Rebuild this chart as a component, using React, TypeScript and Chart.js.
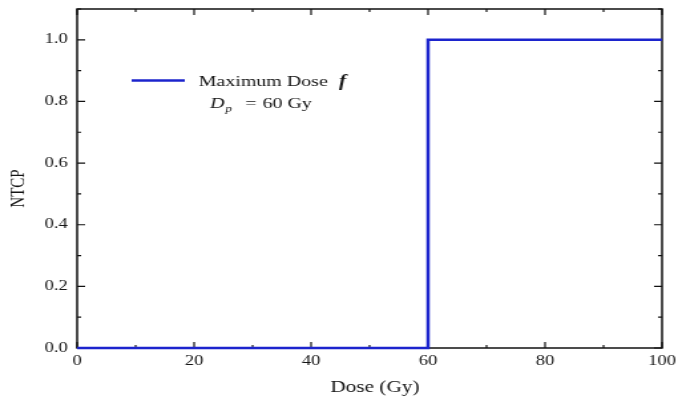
import { useEffect, useRef } from 'react';
import { Chart, registerables } from 'chart.js';

Chart.register(...registerables);

// Step response of NTCP for the maximum-dose model
const doseGy = [0, 60, 60, 100];
const ntcp = [0, 0, 1, 1];

const xTickValues = [0, 20, 40, 60, 80, 100];
const yTickValues = [0, 0.2, 0.4, 0.6, 0.8, 1.0];

const seriesLabel = 'Maximum Dose';
const seriesSymbol = 'f';
const prescribedDose = 60;
const doseUnit = 'Gy';

const xTitle = 'Dose (Gy)';
const yTitle = 'NTCP';

// Drawn narrower and widened by CSS to get the wide serif look
const VIEW_W = 678;
const VIEW_H = 401;
const LOGICAL_W = 510;

const SERIF = "'Liberation Serif', 'Times New Roman', serif";
const LINE_COLOR = 'rgb(28, 36, 205)';
const TEXT_COLOR = '#141414';

const frameAndTicks = {
  id: 'frameAndTicks',
  beforeDatasetsDraw(chart: any) {
    const { ctx, chartArea: a, scales } = chart;
    const xs = scales.x;
    const ys = scales.y;
    ctx.save();
    ctx.strokeStyle = '#111';
    ctx.lineWidth = 1.5;
    ctx.strokeRect(a.left, a.top, a.right - a.left, a.bottom - a.top);

    const major = 6;
    const minor = 3;
    ctx.lineWidth = 1.2;
    ctx.beginPath();
    for (let v = xs.min; v <= xs.max + 1e-9; v += 10) {
      const px = xs.getPixelForValue(v);
      const len = Math.round(v) % 20 === 0 ? major : minor;
      ctx.moveTo(px, a.bottom);
      ctx.lineTo(px, a.bottom - len);
      ctx.moveTo(px, a.top);
      ctx.lineTo(px, a.top + len);
    }
    for (let i = 0; i <= 11; i++) {
      const v = i / 10;
      const py = ys.getPixelForValue(v);
      const len = i % 2 === 0 ? major : minor;
      ctx.moveTo(a.left, py);
      ctx.lineTo(a.left + len, py);
      ctx.moveTo(a.right, py);
      ctx.lineTo(a.right - len, py);
    }
    ctx.stroke();
    ctx.restore();
  },
  afterDraw(chart: any) {
    const { ctx, chartArea: a } = chart;
    ctx.save();
    ctx.fillStyle = TEXT_COLOR;

    // axis titles
    ctx.font = `16px ${SERIF}`;
    ctx.textAlign = 'center';
    ctx.textBaseline = 'alphabetic';
    ctx.fillText(xTitle, (a.left + a.right) / 2 + 4, a.bottom + 44);

    ctx.save();
    ctx.translate(17.5, (a.top + a.bottom) / 2 + 10);
    ctx.rotate(-Math.PI / 2);
    ctx.font = `15px ${SERIF}`;
    ctx.fillText(yTitle, 0, 0);
    ctx.restore();

    // legend
    const lx = a.left;
    const ly = a.top;
    ctx.strokeStyle = LINE_COLOR;
    ctx.lineWidth = 2.5;
    ctx.beginPath();
    ctx.moveTo(lx + 41, ly + 71.5);
    ctx.lineTo(lx + 81, ly + 71.5);
    ctx.stroke();

    ctx.textAlign = 'left';
    ctx.font = `15px ${SERIF}`;
    ctx.fillText(seriesLabel, lx + 91.5, ly + 77);
    ctx.font = `italic bold 16px ${SERIF}`;
    ctx.fillText(seriesSymbol, lx + 197, ly + 77);

    ctx.font = `italic 15px ${SERIF}`;
    ctx.fillText('D', lx + 100, ly + 99);
    ctx.font = `italic 10px ${SERIF}`;
    ctx.fillText('p', lx + 111.5, ly + 103);
    ctx.font = `15px ${SERIF}`;
    ctx.fillText('=', lx + 126.5, ly + 99);
    ctx.fillText(`${prescribedDose} ${doseUnit}`, lx + 139.5, ly + 99);
    ctx.restore();
  },
};

export default function App() {
  const canvasRef = useRef<HTMLCanvasElement | null>(null);

  useEffect(() => {
    const canvas = canvasRef.current;
    if (!canvas) return;
    const chart = new Chart(canvas, {
      type: 'line',
      data: {
        datasets: [
          {
            label: seriesLabel,
            data: doseGy.map((x, i) => ({ x, y: ntcp[i] })),
            borderColor: LINE_COLOR,
            borderWidth: 2.5,
            pointRadius: 0,
            fill: false,
            tension: 0,
            clip: false as any,
          },
        ],
      },
      options: {
        animation: false,
        responsive: true,
        maintainAspectRatio: false,
        devicePixelRatio: 1,
        layout: { padding: { top: 9, right: 12, left: 0, bottom: 0 } },
        plugins: { legend: { display: false }, tooltip: { enabled: false } },
        scales: {
          x: {
            type: 'linear',
            min: 0,
            max: 100,
            grid: { display: false, drawTicks: false },
            border: { display: false },
            afterBuildTicks: (s: any) => {
              s.ticks = xTickValues.map((value) => ({ value }));
            },
            afterFit: (s: any) => {
              s.height = 53;
              s.paddingLeft = 0;
              s.paddingRight = 0;
            },
            ticks: {
              padding: 5,
              maxRotation: 0,
              color: TEXT_COLOR,
              font: { family: SERIF, size: 14 },
            },
          },
          y: {
            type: 'linear',
            min: 0,
            max: 1.1,
            grid: { display: false, drawTicks: false },
            border: { display: false },
            afterBuildTicks: (s: any) => {
              s.ticks = yTickValues.map((value) => ({ value }));
            },
            afterFit: (s: any) => {
              s.width = 58;
              s.paddingTop = 0;
              s.paddingBottom = 0;
            },
            ticks: {
              padding: 7,
              color: TEXT_COLOR,
              font: { family: SERIF, size: 14 },
              callback: (v: any) => Number(v).toFixed(1),
            },
          },
        },
      },
      plugins: [frameAndTicks],
    });
    return () => chart.destroy();
  }, []);

  return (
    <div
      style={{
        position: 'fixed',
        left: 0,
        top: 0,
        width: VIEW_W,
        height: VIEW_H,
        overflow: 'hidden',
        background: '#fff',
      }}
    >
      <div
        style={{
          position: 'relative',
          width: LOGICAL_W,
          height: VIEW_H,
          transform: `scaleX(${VIEW_W / LOGICAL_W})`,
          transformOrigin: '0 0',
        }}
      >
        <canvas ref={canvasRef} />
      </div>
    </div>
  );
}
